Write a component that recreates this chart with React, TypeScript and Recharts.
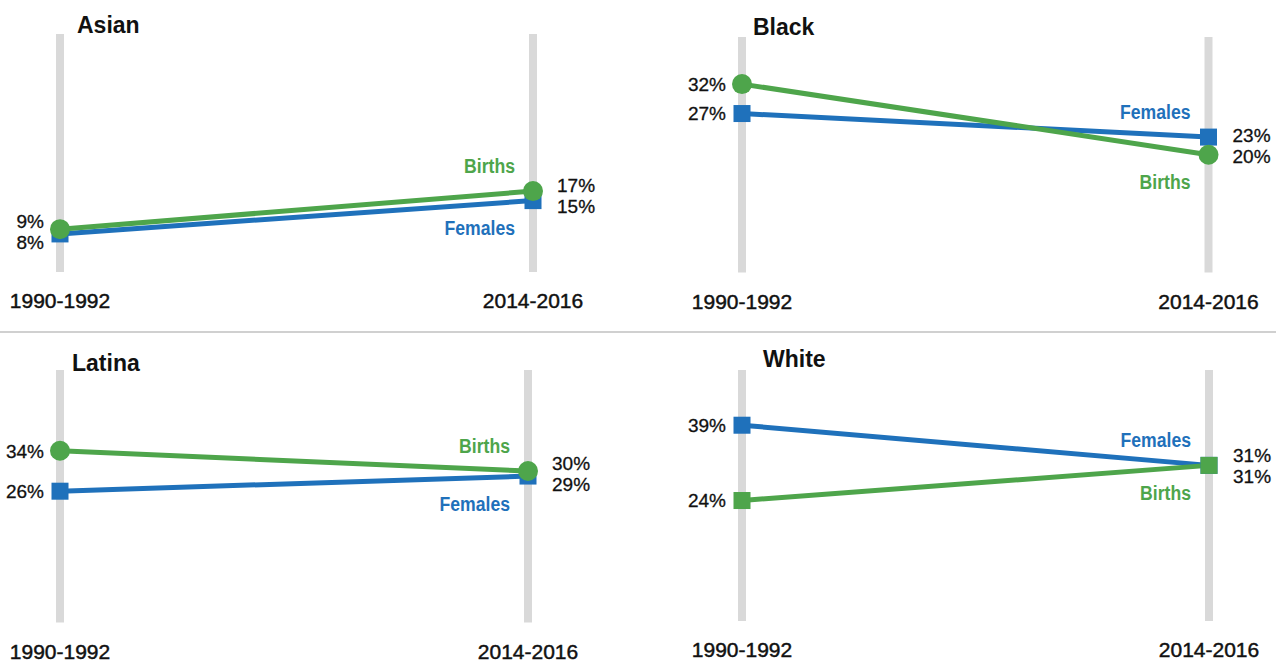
import React from "react";
import { LineChart, Line, XAxis, YAxis, ReferenceLine, LabelList } from "recharts";

const periods = ["1990-1992", "2014-2016"];
const groups = ["Asian", "Black", "Latina", "White"];
const birthsAsian = [9, 17];
const femalesAsian = [8, 15];
const birthsBlack = [32, 20];
const femalesBlack = [27, 23];
const birthsLatina = [34, 30];
const femalesLatina = [26, 29];
const birthsWhite = [24, 31];
const femalesWhite = [39, 31];
const axisMax = [50, 40, 50, 50];

const BLUE = "#1f71bb";
const GREEN = "#4ea54b";
const GREY = "#d9d9d9";
const LABEL_FONT = "'Liberation Sans', Arial, sans-serif";

type PanelCfg = {
  title: string;
  births: number[];
  females: number[];
  yMax: number;
  birthMarker: "circle" | "square";
  left: number;
  top: number;
  margin: { top: number; left: number; right: number; bottom: number };
  titleX: number;
  titleY: number;
};

const W = 638;
const H = 331;
const AXIS_H = 30;

const panels: PanelCfg[] = [
  { title: groups[0], births: birthsAsian, females: femalesAsian, yMax: axisMax[0], birthMarker: "circle", left: 0, top: 0, margin: { top: 34, left: 60, right: 105, bottom: 29 }, titleX: 77, titleY: 33 },
  { title: groups[1], births: birthsBlack, females: femalesBlack, yMax: axisMax[1], birthMarker: "circle", left: 638, top: 0, margin: { top: 37, left: 104, right: 67.5, bottom: 28.5 }, titleX: 753, titleY: 35 },
  { title: groups[2], births: birthsLatina, females: femalesLatina, yMax: axisMax[2], birthMarker: "circle", left: 0, top: 331, margin: { top: 39, left: 60, right: 110, bottom: 9.5 }, titleX: 72, titleY: 371 },
  { title: groups[3], births: birthsWhite, females: femalesWhite, yMax: axisMax[3], birthMarker: "square", left: 638, top: 331, margin: { top: 39, left: 104, right: 67, bottom: 11 }, titleX: 763, titleY: 367 },
];

const MIN_GAP = 21;

function Panel({ cfg }: { cfg: PanelCfg }) {
  const data = periods.map((p, i) => ({ period: p, births: cfg.births[i], females: cfg.females[i] }));
  const plotH = H - cfg.margin.top - cfg.margin.bottom - AXIS_H;
  const pxPer = plotH / cfg.yMax;

  const makeLabel = (series: "births" | "females") => (props: any) => {
    const { x, y, index, value } = props;
    const own = series === "births" ? cfg.births[index] : cfg.females[index];
    const other = series === "births" ? cfg.females[index] : cfg.births[index];
    const gap = Math.abs(own - other) * pxPer;
    const isUpper = own > other || (own === other && series === "females");
    const shift = gap < MIN_GAP ? (MIN_GAP - gap) / 2 : 0;
    const ly = y + (isUpper ? -shift : shift);
    const first = index === 0;
    const color = series === "births" ? GREEN : BLUE;
    const name = series === "births" ? "Births" : "Females";
    const ny = y + (isUpper ? -26 : 27);
    return (
      <g>
        <text
          x={first ? x - 16 : x + 24}
          y={ly}
          dy="0.36em"
          textAnchor={first ? "end" : "start"}
          fontFamily={LABEL_FONT}
          fontSize={19}
          fill="#111"
          stroke="#111"
          strokeWidth={0.3}
        >
          {value}%
        </text>
        {!first && (
          <text
            transform={`translate(${x - 18},${ny}) scale(0.84,1)`}
            x={0}
            y={0}
            dy="0.36em"
            textAnchor="end"
            fontFamily={LABEL_FONT}
            fontWeight="bold"
            fontSize={21}
            fill={color}
          >
            {name}
          </text>
        )}
      </g>
    );
  };

  const squareDot = (color: string) => (props: any) => {
    const { cx, cy, index } = props;
    return <rect key={`s${index}`} x={cx - 8.5} y={cy - 8.5} width={17} height={17} fill={color} />;
  };
  const circleDot = (color: string) => (props: any) => {
    const { cx, cy, index } = props;
    return <circle key={`c${index}`} cx={cx} cy={cy} r={10} fill={color} />;
  };

  const tick = (props: any) => {
    const { x, y, payload } = props;
    return (
      <text x={x} y={y + 36} textAnchor="middle" fontFamily={LABEL_FONT} fontSize={21} fill="#111" stroke="#111" strokeWidth={0.45}>
        {payload.value}
      </text>
    );
  };

  return (
    <div style={{ position: "absolute", left: cfg.left, top: cfg.top, width: W, height: H }}>
      <LineChart width={W} height={H} data={data} margin={cfg.margin}>
        <XAxis
          dataKey="period"
          axisLine={false}
          tickLine={false}
          tickSize={0}
          tickMargin={0}
          height={AXIS_H}
          tick={tick}
          interval={0}
        />
        <YAxis hide domain={[0, cfg.yMax]} />
        <ReferenceLine x={periods[0]} stroke={GREY} strokeWidth={8} />
        <ReferenceLine x={periods[1]} stroke={GREY} strokeWidth={8} />
        <Line
          dataKey="females"
          stroke={BLUE}
          strokeWidth={5}
          dot={squareDot(BLUE)}
          activeDot={false}
          isAnimationActive={false}
        >
          <LabelList dataKey="females" content={makeLabel("females")} />
        </Line>
        <Line
          dataKey="births"
          stroke={GREEN}
          strokeWidth={5}
          dot={cfg.birthMarker === "circle" ? circleDot(GREEN) : squareDot(GREEN)}
          activeDot={false}
          isAnimationActive={false}
        >
          <LabelList dataKey="births" content={makeLabel("births")} />
        </Line>
      </LineChart>
    </div>
  );
}

export default function App() {
  return (
    <div style={{ position: "absolute", left: 0, top: 0, width: 1276, height: 662, background: "#fff", overflow: "hidden" }}>
      {panels.map((p) => (
        <Panel key={p.title} cfg={p} />
      ))}
      <svg width={1276} height={662} style={{ position: "absolute", left: 0, top: 0, pointerEvents: "none" }}>
        <rect x={0} y={331} width={1276} height={2} fill="#d0d0d0" />
        {panels.map((p) => (
          <text key={p.title} x={p.titleX} y={p.titleY} fontFamily={LABEL_FONT} fontWeight="bold" fontSize={23} fill="#111">
            {p.title}
          </text>
        ))}
      </svg>
    </div>
  );
}
